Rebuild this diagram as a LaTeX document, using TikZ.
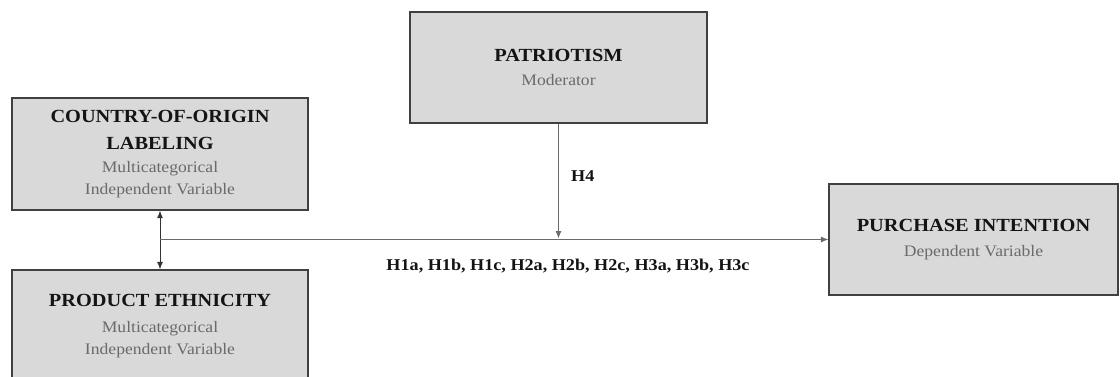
\documentclass[tikz,border=0pt]{standalone}
\usepackage{fontspec}
\setmainfont[FakeStretch=1.1]{Liberation Serif}
\usetikzlibrary{arrows.meta}
\definecolor{boxfill}{HTML}{D9D9D9}
\definecolor{boxline}{HTML}{404040}
\definecolor{subgray}{HTML}{6A6A6A}
\definecolor{titleblack}{HTML}{141414}
\definecolor{conn}{HTML}{6A6A6A}
\newcommand{\ttlf}{\fontsize{18.5}{26}\selectfont\bfseries\color{titleblack}}
\newcommand{\subf}{\fontsize{16}{22}\selectfont\color{subgray}}
\tikzset{
  varbox/.style={draw=boxline, fill=boxfill, line width=1.2pt, align=center,
    inner sep=0pt, font=\subf},
  conline/.style={draw=conn, line width=0.9pt},
  tip/.style={-{Latex[length=7.5pt,width=6pt]}},
  hlabel/.style={font=\fontsize{16.5}{18}\selectfont\bfseries\color{titleblack}, inner sep=0pt}
}
\begin{document}
\begin{tikzpicture}[x=1pt,y=-1pt]
\useasboundingbox (0,0) rectangle (1120,376);
\clip (0,0) rectangle (1120,376);
\node[varbox, minimum width=296pt, minimum height=112pt] (coo) at (160,154)
  {{\ttlf COUNTRY-OF-ORIGIN}\\[5pt]{\ttlf LABELING}\\[1pt]Multicategorical\\Independent Variable};
\node[varbox, minimum width=296pt, minimum height=112pt] (pe) at (160,326)
  {{\ttlf PRODUCT ETHNICITY}\\[4pt]Multicategorical\\Independent Variable};
\node[varbox, minimum width=297pt, minimum height=111pt] (pat) at (558.5,67.5)
  {{\ttlf PATRIOTISM}\\[2pt]Moderator};
\node[varbox, minimum width=289pt, minimum height=111pt] (pi) at (973.5,239.5)
  {{\ttlf PURCHASE INTENTION}\\[3pt]Dependent Variable};
\coordinate (junc) at (coo.south |- pi.west);
\coordinate (mod) at (pat.south |- pi.west);
\draw[conline, draw=black!80, {Latex[length=7.5pt,width=6pt]}-{Latex[length=7.5pt,width=6pt]}] (coo.south) -- (pe.north);
\draw[conline, tip] (junc) -- (pi.west);
\draw[conline, tip] (pat.south) -- ([yshift=1pt]mod);
\node[hlabel, anchor=west] (h4) at (571,176) {H4};
\node[hlabel, anchor=base] (hyp) at (568,270) {H1a, H1b, H1c, H2a, H2b, H2c, H3a, H3b, H3c};
\end{tikzpicture}
\end{document}
